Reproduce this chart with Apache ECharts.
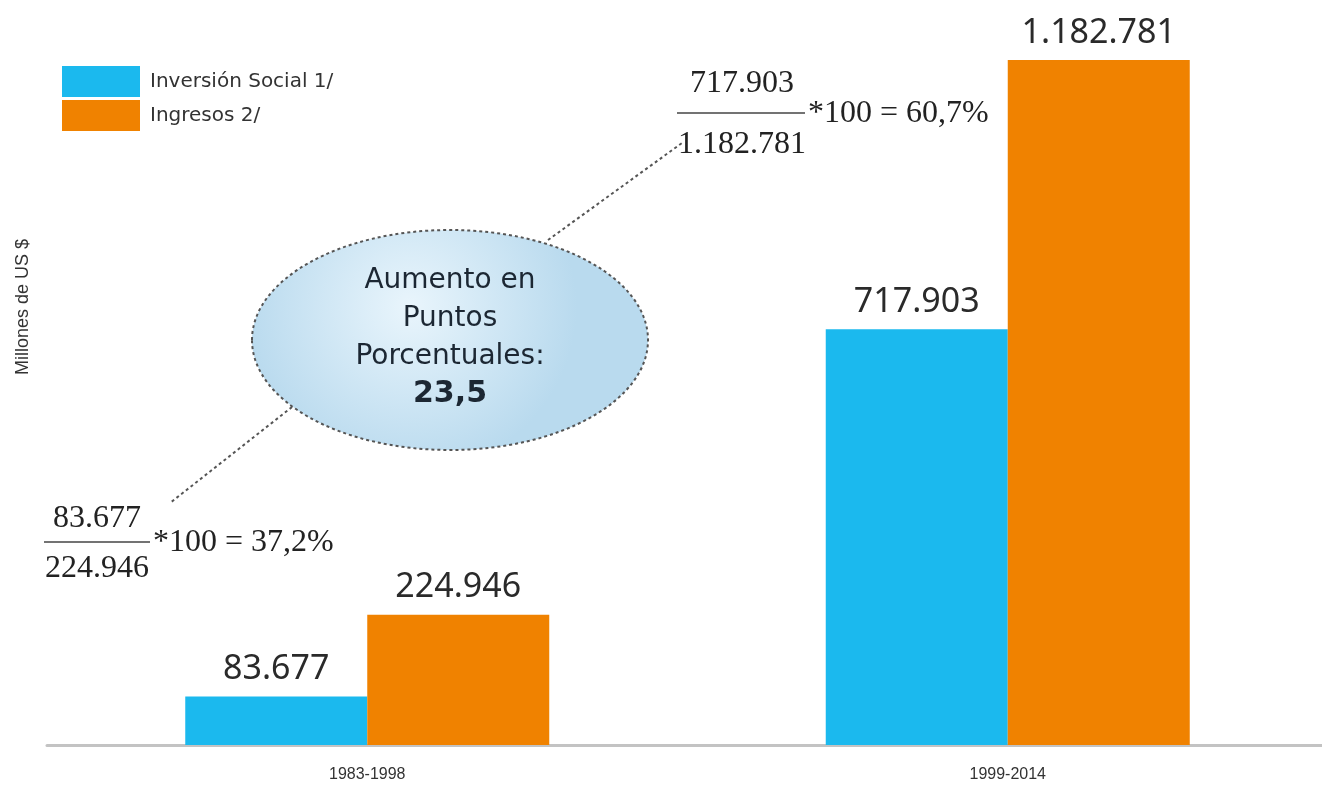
<!DOCTYPE html>
<html>
<head>
<meta charset="utf-8">
<script src="https://cdn.jsdelivr.net/npm/echarts@6/dist/echarts.min.js"></script>
<style>
  html, body { margin: 0; padding: 0; background: #fff; overflow: hidden; }
  #chart { width: 1330px; height: 786px; }
</style>
</head>
<body>
<div id="chart"></div>
<script>
var categories = ['1983-1998', '1999-2014'];
var seriesNames = ['Inversión Social 1/', 'Ingresos 2/'];
var inversionSocial = [83677, 717903];
var ingresos = [224946, 1182781];

function miles(v) {
    return String(v).replace(/\B(?=(\d{3})+(?!\d))/g, '.');
}
function pct(a, b) {
    return a / b * 100;
}
function coma(v) {
    return v.toFixed(1).replace('.', ',');
}

var p1 = pct(inversionSocial[0], ingresos[0]);
var p2 = pct(inversionSocial[1], ingresos[1]);

var sans = '"Noto Sans", "DejaVu Sans", sans-serif';
var wide = '"DejaVu Sans", "Noto Sans", sans-serif';
var serif = '"Liberation Serif", "DejaVu Serif", serif';
var narrow = '"Liberation Sans Narrow", "Liberation Sans", sans-serif';

// fraction annotation: numerator / line / denominator + "*100 = x%"
function fraction(cx, lineY, up, down, x1, x2, num, den, tail) {
    return [
        { type: 'text', x: cx, y: lineY - up,
          style: { text: num, font: '32px ' + serif, fill: '#222', align: 'center', verticalAlign: 'middle' } },
        { type: 'line', shape: { x1: x1, y1: lineY, x2: x2, y2: lineY },
          style: { stroke: '#444', lineWidth: 1.5 } },
        { type: 'text', x: cx, y: lineY + down,
          style: { text: den, font: '32px ' + serif, fill: '#222', align: 'center', verticalAlign: 'middle' } },
        { type: 'text', x: x2 + 3, y: lineY + 1,
          style: { text: tail, font: '32px ' + serif, fill: '#222', align: 'left', verticalAlign: 'middle' } }
    ];
}

var myChart = echarts.init(document.getElementById('chart'));

var elements = [];
elements.push({ type: 'text', x: 23, y: 307, rotation: Math.PI / 2,
    style: { text: 'Millones de US $', font: '18px ' + narrow, fill: '#333', align: 'center', verticalAlign: 'middle' } });
elements.push({ type: 'line', shape: { x1: 548, y1: 240, x2: 682, y2: 143 },
    style: { stroke: '#555', lineWidth: 2, lineDash: [3, 3] } });
elements.push({ type: 'line', shape: { x1: 292, y1: 407, x2: 170, y2: 503 },
    style: { stroke: '#555', lineWidth: 2, lineDash: [3, 3] } });
elements.push({ type: 'ellipse', shape: { cx: 450, cy: 340, rx: 198, ry: 110 },
    style: {
        fill: new echarts.graphic.RadialGradient(0.4, 0.35, 0.75, [
            { offset: 0, color: '#e9f5fc' },
            { offset: 1, color: '#b9daee' }
        ]),
        stroke: '#555', lineWidth: 2, lineDash: [3, 3]
    } });
var lines = ['Aumento en', 'Puntos', 'Porcentuales:'];
lines.forEach(function (t, i) {
    elements.push({ type: 'text', x: 450, y: 281 + i * 38,
        style: { text: t, font: '28px ' + wide, fill: '#1c2733', align: 'center', verticalAlign: 'middle' } });
});
elements.push({ type: 'text', x: 450, y: 394,
    style: { text: coma(p2 - p1), font: 'bold 30px ' + wide, fill: '#1c2733', align: 'center', verticalAlign: 'middle' } });

elements = elements.concat(fraction(97, 542, 23, 27, 44, 150, miles(inversionSocial[0]), miles(ingresos[0]), '*100 = ' + coma(p1) + '%'));
elements = elements.concat(fraction(742, 113, 29, 32, 677, 805, miles(inversionSocial[1]), miles(ingresos[1]), '*100 = ' + coma(p2) + '%'));

var labelStyle = {
    show: true,
    position: 'top',
    distance: 10,
    fontFamily: sans,
    fontSize: 34,
    color: '#2a2a2a',
    formatter: function (p) { return miles(p.value); }
};

var option = {
    backgroundColor: '#ffffff',
    animation: false,
    legend: {
        orient: 'vertical',
        left: 62,
        top: 66,
        padding: 0,
        itemGap: 3,
        itemWidth: 78,
        itemHeight: 31,
        icon: 'rect',
        textStyle: { fontFamily: wide, fontSize: 20, color: '#333', padding: [0, 0, 0, 5] },
        data: seriesNames
    },
    grid: { left: 47, top: 60, right: 2, bottom: 41 },
    xAxis: {
        type: 'category',
        data: categories,
        axisTick: { show: false },
        axisLine: { lineStyle: { color: '#c3c3c3', width: 3 } },
        axisLabel: { margin: 22, fontFamily: narrow, fontSize: 16, color: '#333' }
    },
    yAxis: {
        type: 'value',
        min: 0,
        max: function (v) { return v.max; },
        axisLine: { show: false },
        axisTick: { show: false },
        axisLabel: { show: false },
        splitLine: { show: false }
    },
    graphic: elements,
    series: [
        {
            name: seriesNames[0],
            type: 'bar',
            barWidth: 182,
            barGap: '0%',
            itemStyle: { color: '#1bb9ee' },
            label: labelStyle,
            data: inversionSocial
        },
        {
            name: seriesNames[1],
            type: 'bar',
            barWidth: 182,
            barGap: '0%',
            itemStyle: { color: '#f08200' },
            label: labelStyle,
            data: ingresos
        }
    ]
};

option && myChart.setOption(option);
</script>
</body>
</html>
